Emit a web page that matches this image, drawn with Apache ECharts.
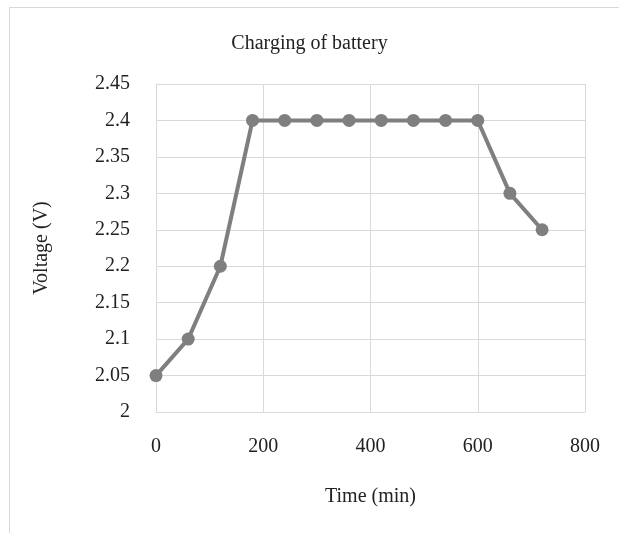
<!DOCTYPE html>
<html><head><meta charset="utf-8">
<script src="https://cdn.jsdelivr.net/npm/echarts@6/dist/echarts.min.js"></script>
<style>
html,body{margin:0;padding:0;background:#fff;}
#frame{position:absolute;left:9px;top:7px;width:640px;height:560px;border:1px solid #d9d9d9;box-sizing:border-box;}
#c{position:absolute;left:0;top:0;width:619px;height:533px;}
</style></head>
<body>
<div id="frame"></div>
<div id="c"></div>
<script>
const timeMin = [0, 60, 120, 180, 240, 300, 360, 420, 480, 540, 600, 660, 720];
const voltage = [2.05, 2.1, 2.2, 2.4, 2.4, 2.4, 2.4, 2.4, 2.4, 2.4, 2.4, 2.3, 2.25];
const titleText = 'Charging of battery';
const xName = 'Time (min)';
const yName = 'Voltage (V)';

const chart = echarts.init(document.getElementById('c'));
const font = 'Liberation Serif';
chart.setOption({
  animation: false,
  title: {text: titleText, left: 'center', top: 29,
    textStyle: {fontFamily: font, fontSize: 20, fontWeight: 'normal', color: '#222'}},
  grid: {left: 156, right: 34, top: 84, bottom: 121},
  xAxis: {type: 'value', min: 0, max: 800, interval: 200,
    name: xName, nameLocation: 'middle', nameGap: 75,
    nameTextStyle: {fontFamily: font, fontSize: 20, color: '#222'},
    axisLine: {show: true, lineStyle: {color: '#d9d9d9', width: 1}},
    axisTick: {show: false},
    axisLabel: {fontFamily: font, fontSize: 20, color: '#222', margin: 25},
    splitLine: {show: true, lineStyle: {color: '#d9d9d9', width: 1}}},
  yAxis: {type: 'value', min: 2, max: 2.45, interval: 0.05,
    name: yName, nameLocation: 'middle', nameGap: 104, nameRotate: 90,
    nameTextStyle: {fontFamily: font, fontSize: 20, color: '#222'},
    axisLine: {show: true, lineStyle: {color: '#d9d9d9', width: 1}},
    axisTick: {show: false},
    axisLabel: {fontFamily: font, fontSize: 20, color: '#222', margin: 26,
      formatter: v => String(+v.toFixed(2))},
    splitLine: {show: true, lineStyle: {color: '#d9d9d9', width: 1}}},
  series: [{type: 'line', data: timeMin.map((t, i) => [t, voltage[i]]),
    symbol: 'circle', symbolSize: 13,
    lineStyle: {color: '#7f7f7f', width: 4},
    itemStyle: {color: '#7f7f7f'}}]
});
</script>
</body></html>
